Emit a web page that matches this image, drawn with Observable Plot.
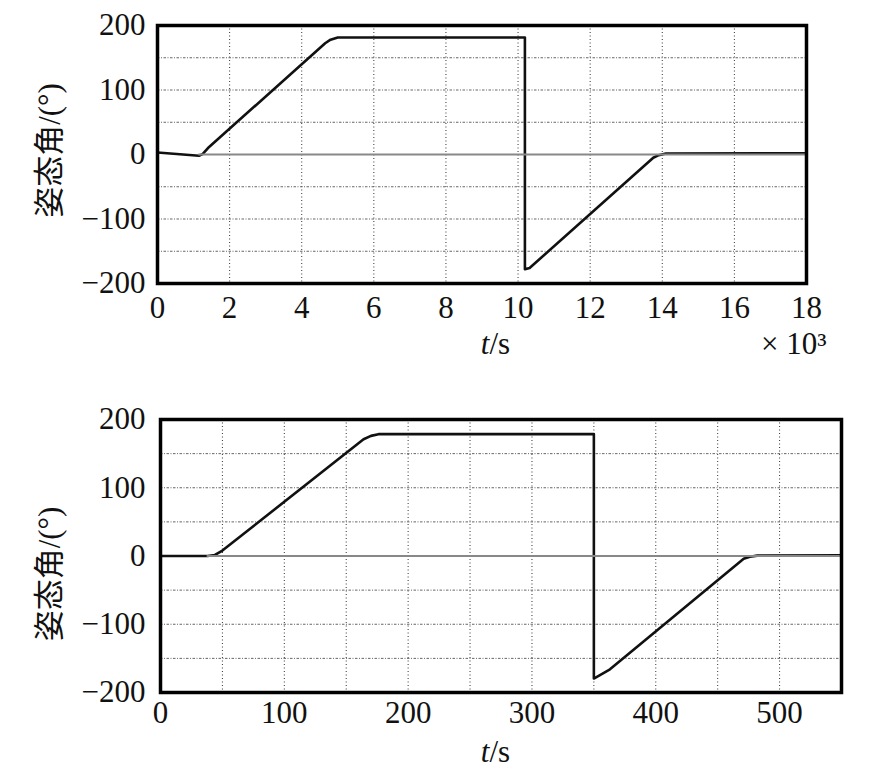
<!DOCTYPE html>
<html>
<head>
<meta charset="utf-8">
<script src="https://cdn.jsdelivr.net/npm/d3@7"></script>
<script src="https://cdn.jsdelivr.net/npm/@observablehq/plot@0.6"></script>
<style>
  html, body { margin: 0; padding: 0; background: #fff; }
  #c svg { display: block; }
</style>
</head>
<body>
<div id="c"></div>
<script>
// ---------- data ----------
// top panel: time in 10^3 s
const t1 = [0, 1.15, 1.25, 1.4, 4.65, 4.8, 5.0, 10.19, 10.19, 10.32, 13.75, 13.9, 14.1, 18];
const a1 = [3, -2, 0.5, 10, 172.5, 178, 181.5, 181.5, -178, -176, -5, -1, 1.5, 2];
const g1t = [1.15, 18];
const g1v = [0, 0];
// bottom panel: time in s
const t2 = [0, 38, 44, 50, 164, 170, 176, 350, 350, 363, 471, 476, 482, 550];
const a2 = [0, 0, 1.5, 8, 171, 176, 178.5, 178.5, -179.5, -166, -4, -1, 0.5, 1];
const g2t = [38, 550];
const g2v = [0, 0];

const xTicks1 = [0, 2, 4, 6, 8, 10, 12, 14, 16, 18];
const xGrid1 = [2, 4, 6, 8, 10, 12, 14, 16];
const xTicks2 = [0, 100, 200, 300, 400, 500];
const xGrid2 = [50, 100, 150, 200, 250, 300, 350, 400, 450, 500];
const yTicks = [-200, -100, 0, 100, 200];
const yGrid = [-150, -100, -50, 50, 100, 150];

const yLabel = "姿态角/(°)";
const xLabel = "t/s";
const xUnit1 = "× 10³";

// ---------- drawing ----------
const FONT = "Liberation Serif, Tinos, Times New Roman, DejaVu Serif, Noto Sans CJK SC, serif";
const rows = (ts, vs) => ts.map((t, i) => ({t, v: vs[i]}));

function panel(o) {
  const marks = [
    Plot.gridX(o.xGrid, {stroke: "#333", strokeOpacity: 1, strokeWidth: 1, strokeDasharray: "1,2.5"}),
    Plot.gridY(yGrid, {stroke: "#666", strokeOpacity: 1, strokeWidth: 1, strokeDasharray: "2.5,1.5,1,1.5"}),
    Plot.line(rows(o.ts, o.vs), {x: "t", y: "v", stroke: "#111", strokeWidth: 2.6}),
    Plot.line(rows(o.gt, o.gv), {x: "t", y: "v", stroke: "#888", strokeWidth: 2.2}),
    Plot.axisX(o.xTicks, {tickSize: 0, tickPadding: o.xPad, fontSize: 31, label: null, tickFormat: d => String(d)}),
    Plot.axisY(yTicks, {tickSize: 0, tickPadding: o.yPad, fontSize: 31, label: null, tickFormat: d => d < 0 ? "\u2212" + (-d) : String(d)}),
    Plot.text([yLabel], {frameAnchor: "left", rotate: -90, dx: o.ylDx, dy: o.ylDy, fontSize: 31, textAnchor: "middle", lineAnchor: "middle"}),
    Plot.text([xLabel], {frameAnchor: "bottom", dx: o.xlDx, dy: o.xlDy, fontSize: 31, textAnchor: "middle", lineAnchor: "middle"}),
  ];
  if (o.unit) {
    marks.push(Plot.text([o.unit], {frameAnchor: "bottom-right", dx: 20, dy: 61, fontSize: 31, textAnchor: "end", lineAnchor: "middle"}));
  }
  marks.push(Plot.frame({stroke: "#000", strokeWidth: 3.5}));
  const svg = Plot.plot({
    width: 877,
    height: o.height,
    marginTop: o.mt, marginBottom: o.mb, marginLeft: o.ml, marginRight: o.mr,
    x: {domain: o.xDomain},
    y: {domain: [-200, 200]},
    style: {background: "#fff", color: "#111"},
    marks
  });
  svg.setAttribute("font-family", FONT);
  d3.select(svg).selectAll("g, text").attr("font-family", FONT).style("font-family", FONT);
  // italic "t" in t/s
  d3.select(svg).selectAll("text").filter(function() { return this.textContent === xLabel; })
    .each(function() {
      const s = d3.select(this);
      s.text(null);
      s.append("tspan").attr("font-style", "italic").text("t");
      s.append("tspan").text("/s");
    });
  return svg;
}

const c = document.getElementById("c");
c.appendChild(panel({
  ts: t1, vs: a1, gt: g1t, gv: g1v,
  xDomain: [0, 18], xTicks: xTicks1, xGrid: xGrid1,
  height: 390, mt: 25, mb: 107, ml: 157, mr: 71,
  xPad: 12, yPad: 12, ylDx: -107, ylDy: -4, xlDx: 13.5, xlDy: 61, unit: xUnit1
}));
c.appendChild(panel({
  ts: t2, vs: a2, gt: g2t, gv: g2v,
  xDomain: [0, 550], xTicks: xTicks2, xGrid: xGrid2,
  height: 393, mt: 29, mb: 91, ml: 160, mr: 36,
  xPad: 8, yPad: 15, ylDx: -110, ylDy: 18, xlDx: -5.5, xlDy: 60
}));
</script>
</body>
</html>
